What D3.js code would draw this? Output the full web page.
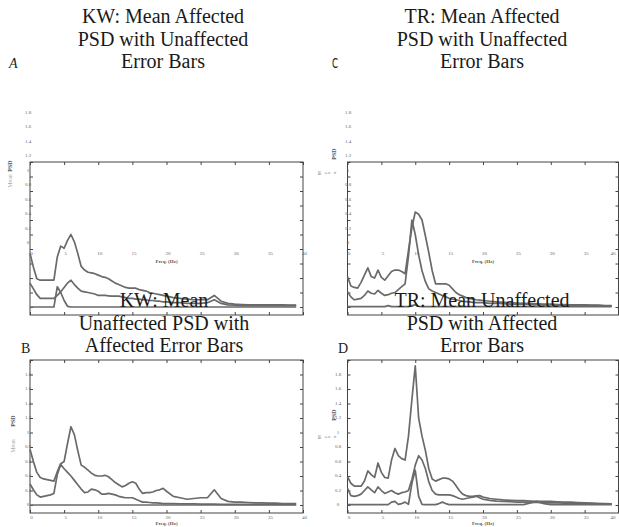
<!DOCTYPE html>
<html>
<head>
<meta charset="utf-8">
<style>
  body { margin: 0; background: #fff; }
  .title { font-family: "Liberation Serif", "Times New Roman", Times, serif; font-size: 20px; fill: #1a1a1a; text-anchor: middle; }
  .tick-lbl { font-family: "Liberation Serif", "Times New Roman", serif; font-size: 5px; fill: #666; text-anchor: middle; dominant-baseline: middle; }
  .axis-lbl { font-family: "Liberation Serif", "Times New Roman", serif; font-weight: bold; font-size: 5px; fill: #555; text-anchor: middle; dominant-baseline: middle; }
  .ticks path.domain { display: none; }
  .ticks line { stroke: #444; }
  .box { fill: none; stroke: #444; stroke-width: 1; }
  .psd { fill: none; stroke: #6a6a6a; stroke-width: 1.7; stroke-linejoin: round; }
  .serif { font-family: "Liberation Serif", "Times New Roman", Times, serif; }
</style>
<script src="https://d3js.org/d3.v7.min.js"></script>
</head>
<body>
<svg width="619" height="527"></svg>
<script>
// frequency grid (Hz): 0.5 Hz steps up to 20, then 1 Hz
var freq = [0,0.5,1,1.5,2,2.5,3,3.5,4,4.5,5,5.5,6,6.5,7,7.5,8,8.5,9,9.5,10,
  10.5,11,11.5,12,12.5,13,13.5,14,14.5,15,15.5,16,16.5,17,17.5,18,18.5,19,19.5,20,
  21,22,23,24,25,26,27,28,29,30,31,32,33,34,35,36,37,38,39];

var xTicks = [0,5,10,15,20,25,30,35,40];
var yTicks = [0,0.2,0.4,0.6,0.8,1,1.2,1.4,1.6,1.8,2];
var yTickLabels = [0,0.2,0.4,0.6,0.8,1,1.2,1.4,1.6,1.8];

// A: KW mean affected, unaffected error bars
var kwAffUpper = [0.74,0.55,0.39,0.37,0.37,0.37,0.37,0.37,0.69,0.84,0.81,0.92,1.0,0.9,0.74,0.56,0.51,0.48,0.47,0.46,0.44,
  0.42,0.41,0.39,0.36,0.33,0.31,0.29,0.27,0.26,0.26,0.26,0.24,0.23,0.22,0.2,0.19,0.18,0.17,0.16,0.15,
  0.13,0.12,0.11,0.1,0.1,0.1,0.16,0.08,0.05,0.04,0.035,0.03,0.03,0.03,0.03,0.03,0.03,0.025,0.025];
var kwAffMean = [0.33,0.25,0.17,0.12,0.12,0.12,0.12,0.12,0.16,0.21,0.27,0.33,0.37,0.31,0.26,0.22,0.21,0.2,0.19,0.18,0.16,
  0.16,0.16,0.155,0.15,0.15,0.15,0.14,0.13,0.12,0.12,0.11,0.11,0.1,0.1,0.09,0.09,0.08,0.08,0.07,0.07,
  0.06,0.06,0.05,0.05,0.05,0.06,0.1,0.05,0.03,0.025,0.02,0.02,0.02,0.02,0.02,0.02,0.02,0.02,0.02];
var kwAffLower = [0,0,0,0,0,0,0,0,0.28,0.2,0.09,0.01,0,0,0,0,0,0,0,0,0,
  0,0,0,0,0,0,0,0,0,0,0,0,0,0,0,0,0,0,0,0,
  0,0,0,0,0,0,0,0,0,0,0,0,0,0,0,0,0,0,0];

// B: KW mean unaffected, affected error bars
var kwUnaffUpper = [0.77,0.6,0.45,0.38,0.36,0.35,0.34,0.33,0.46,0.57,0.6,0.85,1.08,0.97,0.75,0.55,0.52,0.48,0.44,0.41,0.4,
  0.4,0.41,0.39,0.35,0.31,0.28,0.25,0.27,0.3,0.32,0.3,0.22,0.16,0.17,0.17,0.18,0.2,0.21,0.23,0.19,
  0.12,0.1,0.08,0.09,0.1,0.1,0.21,0.09,0.05,0.04,0.04,0.035,0.03,0.03,0.025,0.025,0.02,0.02,0.02];
var kwUnaffMean = [0.29,0.21,0.14,0.11,0.12,0.13,0.14,0.16,0.42,0.56,0.5,0.45,0.4,0.34,0.28,0.22,0.17,0.18,0.22,0.21,0.19,
  0.15,0.15,0.16,0.15,0.14,0.12,0.11,0.1,0.1,0.1,0.08,0.06,0.04,0.04,0.035,0.03,0.03,0.025,0.02,0.02,
  0.02,0.015,0.015,0.015,0.012,0.012,0.012,0.01,0.01,0.01,0.01,0.01,0.01,0.01,0.01,0.01,0.01,0.01,0.01];
var kwUnaffLower = [0,0,0,0,0,0,0,0,0,0,0,0,0,0,0,0,0,0,0,0,0,
  0,0,0,0,0,0,0,0,0,0,0,0,0,0,0,0,0,0,0,0,
  0,0,0,0,0,0,0,0,0,0,0,0,0,0,0,0,0,0,0];

// C: TR mean affected, unaffected error bars
var trAffUpper = [0.42,0.29,0.27,0.26,0.34,0.44,0.54,0.42,0.4,0.51,0.41,0.37,0.43,0.49,0.51,0.51,0.49,0.46,0.78,1.09,1.31,
  1.28,1.2,0.98,0.75,0.5,0.32,0.32,0.32,0.32,0.3,0.25,0.2,0.17,0.15,0.13,0.12,0.11,0.1,0.095,0.09,
  0.08,0.07,0.065,0.06,0.055,0.05,0.05,0.045,0.04,0.04,0.035,0.035,0.03,0.03,0.03,0.025,0.025,0.02,0.02];
var trAffMean = [0.21,0.14,0.1,0.11,0.12,0.16,0.22,0.19,0.18,0.23,0.19,0.16,0.17,0.19,0.2,0.24,0.28,0.32,0.7,1.2,1.0,
  0.72,0.5,0.35,0.25,0.22,0.2,0.18,0.16,0.14,0.12,0.11,0.1,0.09,0.08,0.075,0.07,0.065,0.06,0.06,0.06,
  0.05,0.05,0.045,0.04,0.04,0.035,0.035,0.03,0.03,0.03,0.025,0.025,0.025,0.02,0.02,0.02,0.02,0.015,0.015];
var trAffLower = [0.005,0.005,0.005,0.005,0.005,0.005,0.005,0.005,0.005,0.005,0.005,0.005,0.02,0.005,0.005,0.005,0.005,0.005,0.005,0.02,0.03,
  0.01,0.005,0.005,0.005,0.005,0.005,0.005,0.005,0.005,0.005,0.005,0.005,0.005,0.005,0.005,0.005,0.005,0.005,0.005,0.005,
  0.005,0.005,0.005,0.005,0.005,0.005,0.005,0.005,0.005,0.005,0.005,0.005,0.005,0.005,0.005,0.005,0.005,0.005,0.005];

// D: TR mean unaffected, affected error bars
var trUnaffUpper = [0.39,0.3,0.26,0.26,0.26,0.33,0.47,0.42,0.38,0.58,0.45,0.38,0.37,0.62,0.78,0.68,0.64,0.62,0.95,1.45,1.92,
  1.2,0.95,0.75,0.5,0.36,0.33,0.35,0.37,0.37,0.36,0.33,0.27,0.2,0.15,0.13,0.12,0.12,0.125,0.13,0.11,
  0.09,0.08,0.07,0.065,0.06,0.06,0.055,0.05,0.05,0.05,0.045,0.04,0.04,0.035,0.03,0.025,0.02,0.02,0.015];
var trUnaffMean = [0.23,0.13,0.12,0.13,0.15,0.2,0.25,0.21,0.17,0.25,0.2,0.16,0.18,0.2,0.17,0.15,0.17,0.18,0.2,0.35,0.55,
  0.68,0.62,0.5,0.32,0.2,0.15,0.14,0.14,0.14,0.14,0.13,0.11,0.09,0.08,0.09,0.1,0.11,0.12,0.1,0.08,
  0.065,0.055,0.05,0.045,0.04,0.04,0.035,0.035,0.03,0.03,0.03,0.025,0.025,0.025,0.02,0.02,0.02,0.015,0.015];
var trUnaffLower = [0.005,0.005,0.005,0.005,0.005,0.005,0.005,0.005,0.005,0.005,0.005,0.005,0.005,0.04,0.05,0.01,0.02,0.04,0.01,0.3,0.48,
  0.12,0.01,0.005,0.005,0.005,0.005,0.02,0.04,0.02,0.005,0.005,0.005,0.005,0.005,0.005,0.005,0.005,0.005,0.005,0.005,
  0.005,0.005,0.005,0.005,0.005,0.005,0.03,0.05,0.02,0.005,0.005,0.005,0.005,0.005,0.005,0.005,0.005,0.005,0.005];

var svg = d3.select("svg");

// layout of the four panels (the top two have their axis labels drawn ~64px too high, as in the source)
var panels = [
  { title: ["KW: Mean Affected", "PSD with Unaffected", "Error Bars"], tx: 163, ty: 23,
    xr: [30, 303], yr: [162, 315], lblShift: -64, yLblX: 28, xLblY: 254, freqY: 262,
    series: [kwAffUpper, kwAffMean, kwAffLower] },
  { title: ["TR: Mean Affected", "PSD with Unaffected", "Error Bars"], tx: 482, ty: 23,
    xr: [347.5, 618.5], yr: [162, 315], lblShift: -64, yLblX: 348, xLblY: 254, freqY: 262,
    series: [trAffUpper, trAffMean, trAffLower] },
  { title: ["KW: Mean", "Unaffected PSD with", "Affected Error Bars"], tx: 164, ty: 307,
    xr: [30, 303], yr: [360, 513], lblShift: 0, yLblX: 28, xLblY: 518, freqY: 524,
    series: [kwUnaffUpper, kwUnaffMean, kwUnaffLower] },
  { title: ["TR: Mean Unaffected", "PSD with Affected", "Error Bars"], tx: 482, ty: 307,
    xr: [347.5, 618.5], yr: [360, 513], lblShift: 0, yLblX: 338, xLblY: 518, freqY: 524,
    series: [trUnaffUpper, trUnaffMean, trUnaffLower] }
];

panels.forEach(function(p) {
  var x = d3.scaleLinear().domain([0, 40]).range(p.xr);
  var y = d3.scaleLinear().domain([-0.11, 2]).range([p.yr[1], p.yr[0]]);
  var g = svg.append("g");

  g.append("rect").attr("class", "box")
    .attr("x", p.xr[0]).attr("y", p.yr[0])
    .attr("width", p.xr[1] - p.xr[0]).attr("height", p.yr[1] - p.yr[0]);

  // inward ticks on all four sides
  g.append("g").attr("class", "ticks").attr("transform", "translate(0," + p.yr[1] + ")")
    .call(d3.axisBottom(x).tickValues(xTicks).tickSize(-3).tickFormat(""));
  g.append("g").attr("class", "ticks").attr("transform", "translate(0," + p.yr[0] + ")")
    .call(d3.axisTop(x).tickValues(xTicks).tickSize(-3).tickFormat(""));
  g.append("g").attr("class", "ticks").attr("transform", "translate(" + p.xr[0] + ",0)")
    .call(d3.axisLeft(y).tickValues(yTicks).tickSize(-3).tickFormat(""));
  g.append("g").attr("class", "ticks").attr("transform", "translate(" + p.xr[1] + ",0)")
    .call(d3.axisRight(y).tickValues(yTicks).tickSize(-3).tickFormat(""));

  // the curves
  var line = d3.line()
    .x(function(d, i) { return x(freq[i]); })
    .y(function(d) { return y(d); });
  p.series.forEach(function(s) {
    g.append("path").attr("class", "psd").attr("d", line(s));
  });

  // tick labels (the last one is kept inside the page)
  g.selectAll(".xl").data(xTicks).enter().append("text")
    .attr("class", "tick-lbl")
    .attr("x", function(d) { return Math.min(x(d) + 1.5, 613); })
    .attr("y", p.xLblY)
    .text(function(d) { return d; });
  g.selectAll(".yl").data(yTickLabels).enter().append("text")
    .attr("class", "tick-lbl")
    .attr("x", p.yLblX)
    .attr("y", function(d) { return y(d) + p.lblShift; })
    .text(function(d) { return d; });

  g.append("text").attr("class", "axis-lbl")
    .attr("x", (p.xr[0] + p.xr[1]) / 2).attr("y", p.freqY)
    .text("Freq. (Hz)");

  // titles
  p.title.forEach(function(t, i) {
    svg.append("text").attr("class", "title")
      .attr("x", p.tx).attr("y", p.ty + i * 22.5)
      .text(t);
  });
});

// y axis titles
svg.append("text").attr("class", "serif").attr("transform", "translate(12,181) rotate(-90)")
  .style("font-size", "6px").style("fill", "#aaa").attr("text-anchor", "middle").text("Mean");
svg.append("text").attr("class", "serif").attr("transform", "translate(12,166) rotate(-90)")
  .style("font-size", "6px").style("font-weight", "bold").style("fill", "#555").attr("text-anchor", "middle").text("PSD");
svg.append("text").attr("class", "serif").attr("transform", "translate(15,446) rotate(-90)")
  .style("font-size", "6px").style("fill", "#aaa").attr("text-anchor", "middle").text("Mean");
svg.append("text").attr("class", "serif").attr("transform", "translate(15,421) rotate(-90)")
  .style("font-size", "6px").style("font-weight", "bold").style("fill", "#555").attr("text-anchor", "middle").text("PSD");

// right panels: "PSD" rotated, "Mean" letters scattered sideways
[[154, 173], [415, 437]].forEach(function(pos) {
  svg.append("text").attr("class", "serif").attr("transform", "translate(336," + pos[0] + ") rotate(-90)")
    .style("font-size", "6px").style("font-weight", "bold").style("fill", "#555").attr("text-anchor", "middle").text("PSD");
  [["M", 320], ["e", 326], ["a", 329], ["n", 335]].forEach(function(c) {
    svg.append("text").attr("class", "serif").attr("transform", "translate(" + c[1] + "," + pos[1] + ") rotate(-90)")
      .style("font-size", "5px").style("fill", "#777").attr("text-anchor", "middle")
      .attr("dominant-baseline", "middle").text(c[0]);
  });
});

// panel letters
svg.append("text").attr("class", "serif").attr("x", 9).attr("y", 68)
  .style("font-size", "14px").style("font-style", "italic").style("fill", "#222").text("A");
svg.append("text").attr("transform", "translate(332,68) scale(0.62,1)")
  .style("font-family", "'DejaVu Sans', sans-serif").style("font-size", "14px").style("fill", "#222").text("C");
svg.append("text").attr("class", "serif").attr("x", 21).attr("y", 353)
  .style("font-size", "14px").style("fill", "#222").text("B");
svg.append("text").attr("class", "serif").attr("x", 338).attr("y", 353)
  .style("font-size", "14px").style("fill", "#222").text("D");
</script>
</body>
</html>
